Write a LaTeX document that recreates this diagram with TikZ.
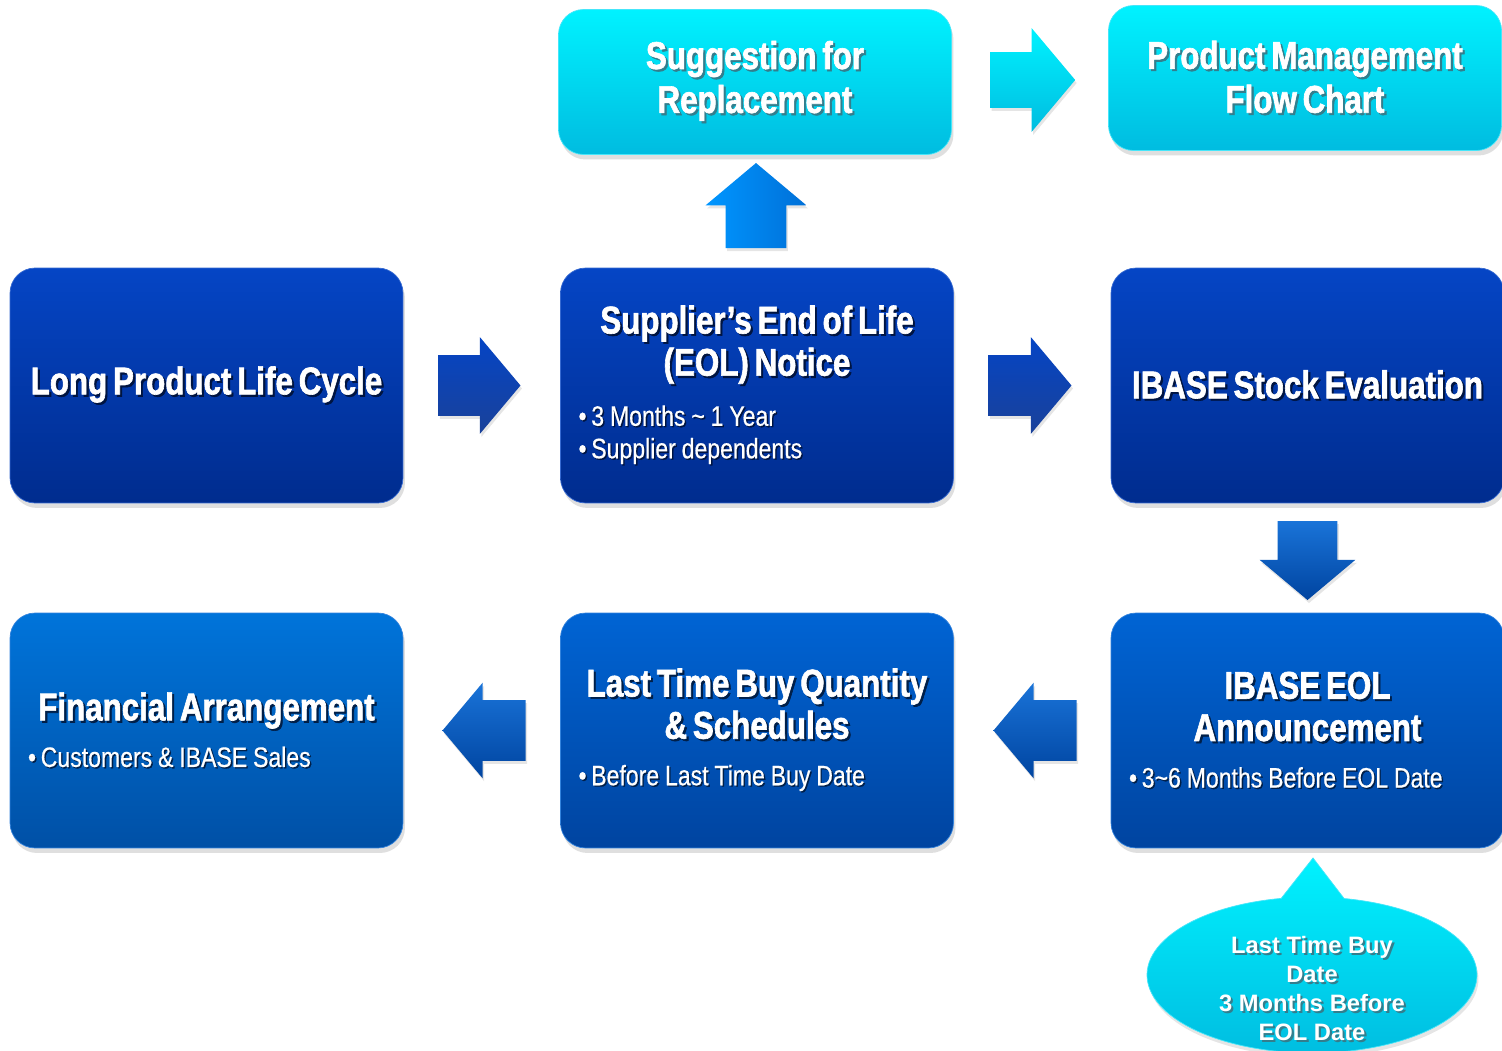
\documentclass[tikz,border=0pt]{standalone}
\usepackage{fontspec}
\setmainfont{Liberation Sans}
\newfontfamily\titlefont{Liberation Sans}[FakeStretch=0.81, FakeBold=1.6]
\newfontfamily\bulfont{Liberation Sans}[FakeStretch=0.82, FakeBold=0.5]
\usetikzlibrary{positioning, shapes.arrows, shapes.callouts, shadows, calc}

\definecolor{navytop}{HTML}{0545C5}
\definecolor{navybot}{HTML}{002C8E}
\definecolor{bluetop}{HTML}{0064D4}
\definecolor{bluebot}{HTML}{0044A0}
\definecolor{lighttop}{HTML}{0074DA}
\definecolor{lightbot}{HTML}{0050A6}
\definecolor{cyantop}{HTML}{00F2FF}
\definecolor{cyanbot}{HTML}{00BCE0}
\definecolor{cyanline}{HTML}{45E6FA}
\definecolor{skytop}{HTML}{0096FF}
\definecolor{skybot}{HTML}{0070D8}
\colorlet{shadowcol}{navybot!45!black}

\newcommand{\tshadow}[2][1.2pt]{\leavevmode\rlap{\kern#1\raisebox{-#1}{\textcolor{shadowcol}{#2}}}#2}
\newcommand{\boxtitle}[2][24]{{\titlefont\bfseries\fontsize{22}{#1}\selectfont #2\par}}
\newcommand{\bul}[1]{\makebox[\linewidth][l]{\hspace*{0.36cm}\tshadow[0.8pt]{\textbullet\,#1}}}
\newcommand{\bullets}[1]{{\bulfont\fontsize{16}{18.5}\selectfont #1\par}}

\begin{document}
\begin{tikzpicture}[
      x=0.02cm, y=-0.02cm,
      % Styling nodes
      base/.style={
        rounded corners=0.5cm,
        align=center,
        text=white,
        inner sep=0pt,
        minimum width=7.86cm,
        text width=7.86cm,
        drop shadow={shadow xshift=0.04cm, shadow yshift=-0.1cm, opacity=0.25}
      },
      navybox/.style={base, draw=navytop!80!white, top color=navytop, bottom color=navybot, minimum height=4.7cm,
        execute at begin node={\colorlet{shadowcol}{navybot!45!black}}},
      bluebox/.style={base, draw=bluetop!80!white, top color=bluetop, bottom color=bluebot, minimum height=4.7cm,
        execute at begin node={\colorlet{shadowcol}{bluebot!45!black}}},
      cyanbox/.style={base, draw=cyanline, top color=cyantop, bottom color=cyanbot, minimum height=2.9cm,
        execute at begin node={\colorlet{shadowcol}{cyanbot!50!black!80!white}}},
      blockarrow/.style={
        single arrow, inner sep=0pt,
        single arrow tip angle=100,
        drop shadow={shadow xshift=0.03cm, shadow yshift=-0.06cm, opacity=0.2}
      },
      harrow/.style={blockarrow, inner ysep=#1},
      varrow/.style={blockarrow, inner xsep=#1},
      navyarrow/.style={top color=navytop, bottom color=navybot!90!white},
      bluearrow/.style={top color=bluetop!90!white, bottom color=bluebot},
      cyanarrow/.style={top color=cyantop, bottom color=cyanbot},
      callnote/.style={ellipse callout, draw=cyanline, top color=cyantop, bottom color=cyanbot,
        text=white, align=center, inner sep=0pt, minimum width=6.6cm, minimum height=3.12cm,
        callout pointer arc=22, font=\bfseries\fontsize{13.5}{16.5}\selectfont,
        execute at begin node={\colorlet{shadowcol}{cyanbot!50!black!80!white}},
        drop shadow={shadow xshift=0.03cm, shadow yshift=-0.08cm, opacity=0.2}}
    ]

    \fill[white] (0,0) rectangle (1502,1051);
    \useasboundingbox (0,0) rectangle (1502,1051);

    % Top row
    \node (sugg) [cyanbox] at (755,82) {\boxtitle[25]{\tshadow{Suggestion for}\\\tshadow{Replacement}}};
    \node (pmchart) [cyanbox] at (1305,78) {\boxtitle[25]{\tshadow{Product Management}\\\tshadow{Flow Chart}}};

    % Middle row
    \node (life) [navybox] at (206.5,385.5) {\boxtitle{\tshadow{Long Product Life Cycle}}};
    \node (eol) [navybox] at (757,385.5) {\boxtitle{\tshadow{Supplier’s End of Life}\\\tshadow{(EOL) Notice}}\vspace{10pt}
      \bullets{\bul{3 Months \textasciitilde\ 1 Year}\\\bul{Supplier dependents}}};
    \node (stock) [navybox] at (1307.5,385.5) {\boxtitle{\tshadow{IBASE Stock Evaluation}}};

    % Bottom row
    \node (fin) [bluebox, top color=lighttop, bottom color=lightbot] at (206.5,730.5) {\boxtitle{\tshadow{Financial Arrangement}}\vspace{8pt}
      \bullets{\bul{Customers \& IBASE Sales}}};
    \node (ltb) [bluebox] at (757,730.5) {\boxtitle{\tshadow{Last Time Buy Quantity}\\\tshadow{\& Schedules}}\vspace{8pt}
      \bullets{\bul{Before Last Time Buy Date}}};
    \node (ibeol) [bluebox] at (1307.5,730.5) {\boxtitle{\tshadow{IBASE EOL}\\\tshadow{Announcement}}\vspace{8pt}
      \bullets{\bul{3\textasciitilde 6 Months Before EOL Date}}};

    % Callout under the announcement
    \node (ltbdate) [callnote, callout absolute pointer={(1313,858)}] at (1312,975)
      {\raisebox{-0.45cm}[0pt][0pt]{\setlength{\tabcolsep}{0pt}\begin{tabular}{c}\tshadow{Last Time Buy}\\\tshadow{Date}\\
        \tshadow{3 Months Before}\\\tshadow{EOL Date}\end{tabular}}};

    % Block arrows between the boxes
    \node (a1) [harrow=0.6cm, navyarrow, minimum height=1.64cm, single arrow head extend=0.36cm, xshift=-0.3cm]
      at ($(life.east)!0.5!(eol.west)$) {};
    \node (a2) [harrow=0.6cm, navyarrow, minimum height=1.66cm, single arrow head extend=0.36cm, xshift=-0.3cm]
      at ($(eol.east)!0.5!(stock.west)$) {};
    \node (a3) [varrow=0.59cm, bluearrow, shape border rotate=270, minimum height=1.58cm, single arrow head extend=0.36cm, yshift=0.2cm]
      at ($(stock.south)!0.5!(ibeol.north)$) {};
    \node (a4) [harrow=0.6cm, bluearrow, shape border rotate=180, minimum height=1.66cm, single arrow head extend=0.35cm, xshift=0.31cm]
      at ($(ibeol.west)!0.5!(ltb.east)$) {};
    \node (a5) [harrow=0.6cm, bluearrow, shape border rotate=180, minimum height=1.66cm, single arrow head extend=0.35cm, xshift=0.3cm]
      at ($(ltb.west)!0.5!(fin.east)$) {};
    \node (a6) [varrow=0.6cm, left color=skytop, right color=skybot, shape border rotate=90,
      minimum height=1.7cm, single arrow head extend=0.4cm, yshift=-0.14cm]
      at ($(eol.north)!0.5!(sugg.south)$) {};
    \node (a7) [harrow=0.55cm, cyanarrow, minimum height=1.7cm, single arrow head extend=0.48cm, xshift=-0.18cm]
      at ($(sugg.east)!0.5!(pmchart.west)$) {};

  \end{tikzpicture}
\end{document}
